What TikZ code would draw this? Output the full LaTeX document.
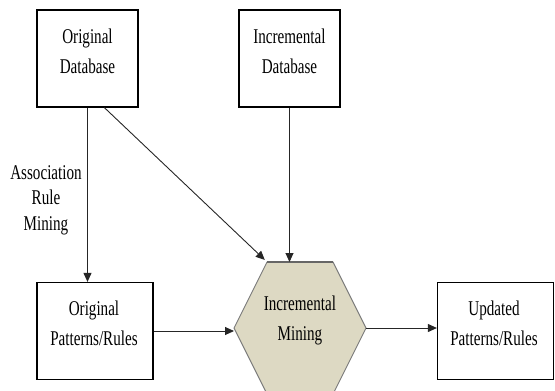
\documentclass[tikz,border=0pt]{standalone}
\usepackage{fontspec}
\setmainfont{Liberation Serif}[FakeStretch=0.72]
\usetikzlibrary{arrows.meta,calc}
\definecolor{hexfill}{HTML}{DDD9C3}
\definecolor{hexline}{HTML}{7A7A7A}
\begin{document}
\begin{tikzpicture}[x=1pt,y=-1pt,
  box/.style={draw=black,line width=1.2pt,inner sep=0pt,minimum height=97pt},
  txt/.style={font=\fontsize{21}{30}\selectfont,align=center,inner sep=0pt},
  arr/.style={-{Triangle[length=9pt,width=8pt]},line width=0.9pt,draw=black!85}]
\useasboundingbox (0,0) rectangle (555,391);
% boxes
\node[box,minimum width=101pt] (odb) at (87.5,58.5) {};
\node[box,minimum width=101pt] (idb) at (289.5,58.5) {};
\node[box,minimum width=116pt] (op) at (95,331) {};
\node[box,minimum width=116pt] (up) at (495.5,331) {};
% box texts
\node[txt] (odbt) at (87.5,51) {Original\\Database};
\node[txt] (idbt) at (289.5,51) {Incremental\\Database};
\node[txt] (opt) at (94,323) {Original\\Patterns/Rules};
\node[txt] (upt) at (494,323) {Updated\\Patterns/Rules};
% hexagon
\coordinate (htl) at (267,262);
\coordinate (htr) at (333,262);
\coordinate (hr) at (366,328);
\coordinate (hbr) at (333,394);
\coordinate (hbl) at (267,394);
\coordinate (hl) at (234,328);
\draw[fill=hexfill,draw=hexline,line width=0.9pt] (htl) -- (htr) -- (hr) -- (hbr) -- (hbl) -- (hl) -- cycle;
\draw[draw=black!60,line width=2pt] (htl) -- (htr);
\node[txt] (hext) at (300,320) {Incremental\\Mining};
% label
\node[txt,font=\fontsize{21}{25.5}\selectfont] (arm) at (46,200) {Association\\Rule\\Mining};
% connectors
\coordinate (dstart) at ($(odb.south)!0.33!(odb.south east)$);
\draw[arr] (odb.south) -- (odb.south |- op.north);
\draw[arr,shorten >=3pt] (dstart) -- (htl);
\draw[arr] (idb.south) -- (idb.south |- htl);
\draw[arr] (op.east) -- (op.east -| hl);
\draw[arr] (hr) -- (hr -| up.west);
\end{tikzpicture}
\end{document}
